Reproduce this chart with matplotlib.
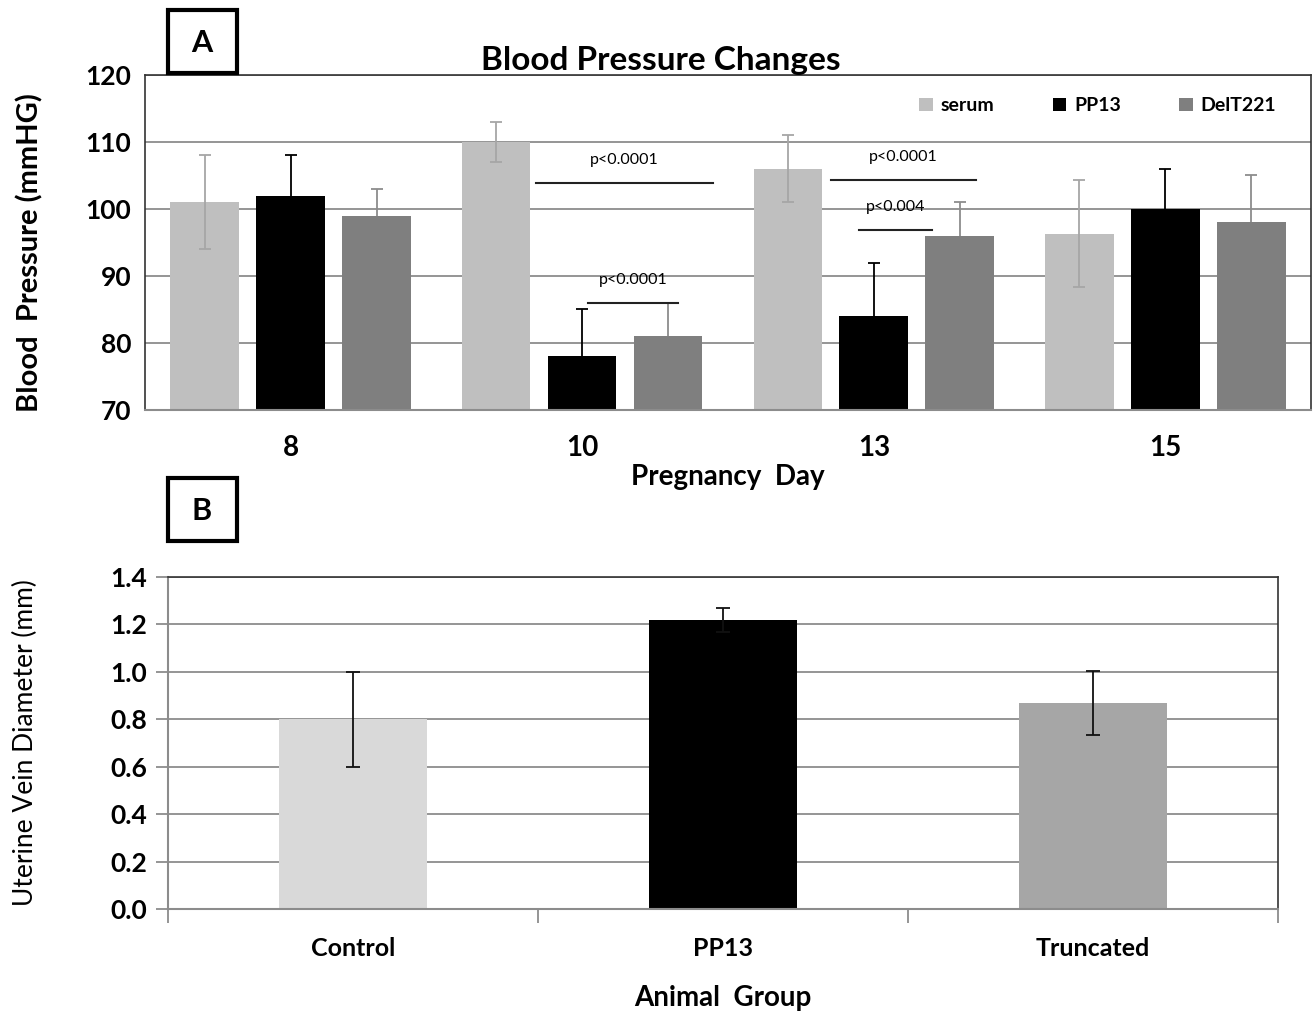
import numpy as np
import matplotlib.pyplot as plt
from matplotlib.patches import Rectangle

plt.rcParams['font.family'] = ['Lato', 'DejaVu Sans']

# Panel A data
days = ['8', '10', '13', '15']
series_a = ['serum', 'PP13', 'DelT221']
serum = [101, 110, 106, 96.3]
serum_err = [7, 3, 5, 8]
pp13 = [102, 78, 84, 100]
pp13_err = [6, 7, 8, 6]
delt = [99, 81, 96, 98]
delt_err = [4, 5, 5, 7]
colors_a = ['#bfbfbf', '#000000', '#7f7f7f']
errcol_a = ['#a6a6a6', '#000000', '#8c8c8c']

# significance brackets: (x0, x1, y, label)
sig_x0 = [0.84, 1.02, 1.855, 1.95]
sig_x1 = [1.45, 1.33, 2.35, 2.20]
sig_y = [103.9, 86.0, 104.3, 96.9]
sig_lab = ['p<0.0001', 'p<0.0001', 'p<0.0001', 'p<0.004']

# Panel B data
groups = ['Control', 'PP13', 'Truncated']
diam = [0.80, 1.22, 0.87]
diam_err = [0.20, 0.05, 0.135]
colors_b = ['#d9d9d9', '#000000', '#a6a6a6']

fig = plt.figure(figsize=(13.13, 10.11), dpi=100)

# ---- Panel A
ax = fig.add_axes([0.1104, 0.5945, 0.8881, 0.3314])
x = np.arange(len(days))
step = 0.295
w = 0.235
vals = [serum, pp13, delt]
errs = [serum_err, pp13_err, delt_err]
for i in range(3):
    xs = x + (i - 1) * step
    ax.bar(xs, vals[i], w, bottom=0, color=colors_a[i], label=series_a[i], zorder=2)
    # serum bars show both arms; the others only the upper one (lower hidden behind bar)
    z = 3 if i == 0 else 1.5
    ax.errorbar(xs, vals[i], yerr=errs[i], fmt='none', ecolor=errcol_a[i],
                elinewidth=1.3, capsize=4, capthick=1.3, zorder=z)

for x0, x1, y, lab in zip(sig_x0, sig_x1, sig_y, sig_lab):
    ax.plot([x0, x1], [y, y], color='#222222', lw=1.5, zorder=4)
    ax.text((x0 + x1) / 2, y + 2.4, lab, ha='center', va='bottom', fontsize=11.5, zorder=4)

ax.set_ylim(70, 120)
ax.set_xlim(-0.5, 3.5)
ax.set_yticks(np.arange(70, 121, 10))
ax.set_xticks(x)
ax.set_xticklabels(days)
ax.tick_params(axis='x', length=0, pad=18, labelsize=20)
ax.tick_params(axis='y', length=0, pad=10, labelsize=19)
for t in ax.get_xticklabels() + ax.get_yticklabels():
    t.set_fontweight('bold')
ax.grid(axis='y', color='#8c8c8c', lw=1.3, zorder=0)
ax.set_axisbelow(True)
for s in ['top', 'right', 'left']:
    ax.spines[s].set_color('#333333')
    ax.spines[s].set_linewidth(1.2)
ax.spines['bottom'].set_color('#8c8c8c')
ax.spines['bottom'].set_linewidth(1.5)
ax.set_xlabel('Pregnancy  Day', fontsize=20, fontweight='bold', labelpad=2)
ax.set_ylabel('Blood  Pressure (mmHG)', fontsize=21, fontweight='bold')
ax.yaxis.set_label_coords(-0.087, 0.47)
ax.set_title('Blood Pressure Changes', fontsize=24, fontweight='bold', x=0.442, pad=0)
leg = ax.legend(loc='upper right', ncol=3, frameon=False, fontsize=14,
                handlelength=0.7, handleheight=0.7, handletextpad=0.4,
                columnspacing=3.0, bbox_to_anchor=(0.985, 0.985))
for t in leg.get_texts():
    t.set_fontweight('bold')

# ---- Panel B
bx = fig.add_axes([0.128, 0.1009, 0.8454, 0.3284])
xb = np.arange(len(groups))
bx.bar(xb, diam, 0.4, color=colors_b, zorder=2)
bx.errorbar(xb, diam, yerr=diam_err, fmt='none', ecolor='#111111',
            elinewidth=1.3, capsize=5, capthick=1.3, zorder=3)
bx.set_ylim(0, 1.4)
bx.set_xlim(-0.5, 2.5)
bx.set_yticks(np.arange(0, 1.41, 0.2))
bx.set_yticklabels([f'{v:.1f}' for v in np.arange(0, 1.41, 0.2)])
bx.set_xticks(xb)
bx.set_xticklabels(groups)
bx.set_xticks(np.arange(-0.5, 2.6, 1), minor=True)
bx.tick_params(axis='x', which='major', length=0, pad=20, labelsize=18)
bx.tick_params(axis='x', which='minor', length=10, color='#8c8c8c', width=1.3)
bx.tick_params(axis='y', length=9, color='#8c8c8c', width=1.3, pad=6, labelsize=19)
for t in bx.get_xticklabels() + bx.get_yticklabels():
    t.set_fontweight('bold')
bx.grid(axis='y', color='#8c8c8c', lw=1.3, zorder=0)
bx.set_axisbelow(True)
for s in ['top', 'right']:
    bx.spines[s].set_color('#333333')
    bx.spines[s].set_linewidth(1.2)
for s in ['left', 'bottom']:
    bx.spines[s].set_color('#8c8c8c')
    bx.spines[s].set_linewidth(1.5)
bx.set_xlabel('Animal  Group', fontsize=20, fontweight='bold', labelpad=18)
bx.set_ylabel('Uterine Vein Diameter (mm)', fontsize=19)
bx.yaxis.set_label_coords(-0.117, 0.5)

# panel letters
for lab, ytop in [('A', 10), ('B', 478)]:
    fig.add_artist(Rectangle((168 / 1313, 1 - (ytop + 63) / 1011), 69 / 1313, 63 / 1011,
                             transform=fig.transFigure, fill=False, lw=3, ec='black'))
    fig.text(202 / 1313, 1 - (ytop + 33) / 1011, lab, ha='center', va='center',
             fontsize=22, fontweight='bold')

fig.savefig('out.png', dpi=100)
